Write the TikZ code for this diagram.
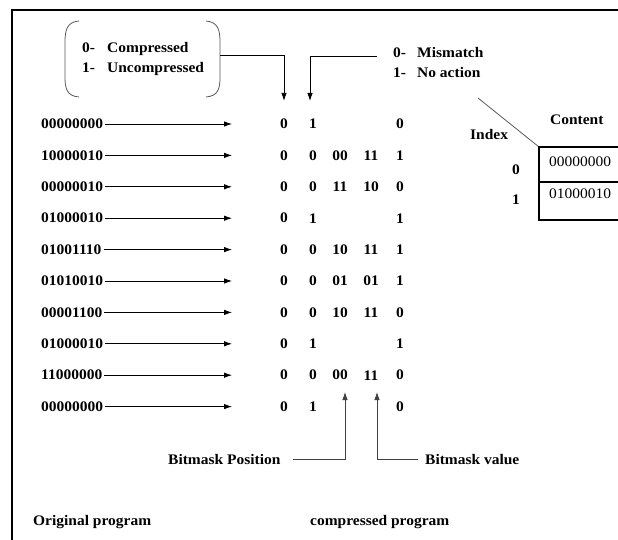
\documentclass[tikz,border=0pt]{standalone}
\usepackage{fontspec}
\setmainfont{Liberation Serif}[FakeStretch=1.06]
\usetikzlibrary{arrows.meta}
\begin{document}
\begin{tikzpicture}[x=1pt,y=-1pt,
  txt/.style={inner sep=0pt,font=\fontsize{14.6}{20}\selectfont\bfseries},
  lbl/.style={txt,anchor=base west},
  bit/.style={txt,anchor=center},
  plain/.style={inner sep=0pt,anchor=base west,font=\fontsize{14.6}{20}\selectfont},
  arr/.style={line width=0.8pt,-{Latex[length=8pt,width=5.5pt]}},
  ln/.style={line width=0.8pt}]
\useasboundingbox (0,0) rectangle (618,540);

% outer frame (left and top edges)
\draw[line width=2pt] (12,545) -- (12,10) -- (625,10);

% legend of the first flag bit, in round brackets
\node[lbl] (l0) at (82,53) {0-};
\node[lbl] (l0t) at (107,53) {Compressed};
\node[lbl] (l1) at (82,73) {1-};
\node[lbl] (l1t) at (107,73) {Uncompressed};
\draw[ln,black!65] (79,21) .. controls (67,22) and (65,30) .. (65,42) -- (65,77)
      .. controls (65,89) and (67,96) .. (79,97);
\draw[ln,black!65] (206,21) .. controls (218,22) and (220,30) .. (220,42) -- (220,77)
      .. controls (220,89) and (218,96) .. (206,97);
\coordinate (brR) at (220,55);

% legend of the second flag bit
\node[lbl] (m0) at (393,58) {0-};
\node[lbl] (m0t) at (417,58) {Mismatch};
\node[lbl] (m1) at (393,78) {1-};
\node[lbl] (m1t) at (417,78) {No action};
\coordinate (mmL) at (377,56);

% original words and their compressed forms
\foreach \o/\a/\b/\c/\d/\e [count=\i] in {
  00000000/0/1/{}/{}/0,
  10000010/0/0/00/11/1,
  00000010/0/0/11/10/0,
  01000010/0/1/{}/{}/1,
  01001110/0/0/10/11/1,
  01010010/0/0/01/01/1,
  00001100/0/0/10/11/0,
  01000010/0/1/{}/{}/1,
  11000000/0/0/00/11/0,
  00000000/0/1/{}/{}/0}{
  \pgfmathsetmacro\y{124+(\i-1)*31.4}
  \node[txt,anchor=west] (o\i) at (41,\y) {\o};
  \node[bit] (a\i) at (284,\y) {\a};
  \node[bit] (b\i) at (313,\y) {\b};
  \node[bit] (c\i) at (340,\y) {\c};
  \node[bit] (d\i) at (371,\y) {\d};
  \node[bit] (e\i) at (400,\y) {\e};
  \coordinate (t\i) at (232,\y);
  \draw[arr] ([xshift=2pt]o\i.east) -- (t\i);
}

% flag arrows
\draw[arr] (brR) -| ([yshift=18pt]a1.north);
\draw[arr] (mmL) -| ([xshift=-3pt,yshift=18pt]b1.north);

% dictionary
\coordinate (tc) at (539,147);
\coordinate (dg) at (478,98);
\draw[ln,black!65] (dg) -- (tc);
\draw[line width=1.2pt] (tc) rectangle (640,220);
\draw[line width=1.2pt] (539,182) -- (640,182);
\node[lbl] (ix) at (470,140) {Index};
\node[lbl] (ct) at (550,125) {Content};
\node[bit] (i0) at (516,170) {0};
\node[bit] (i1) at (516,200) {1};
\node[plain] (w0) at (549,167) {00000000};
\node[plain] (w1) at (549,198) {01000010};

% bitmask annotations
\coordinate (pp) at (345,392);
\coordinate (pv) at (377,392);
\node[lbl] (bp) at (168,464) {Bitmask Position};
\node[lbl] (bv) at (425,464) {Bitmask value};
\draw[arr,black!75] ([xshift=12pt]bp.east) -| (pp);
\draw[arr,black!75] ([xshift=-7pt]bv.west) -| (pv);

% captions
\node[lbl] (op) at (33,525) {Original program};
\node[lbl] (cp) at (310,525) {compressed program};
\end{tikzpicture}
\end{document}
